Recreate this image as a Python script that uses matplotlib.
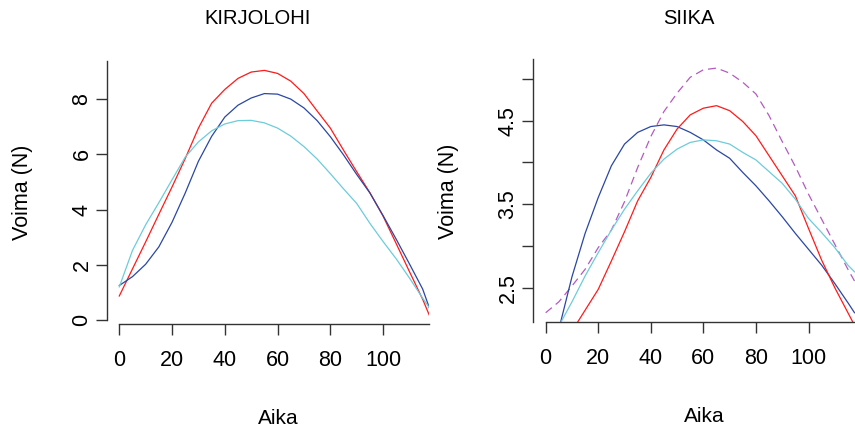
import matplotlib
matplotlib.use("Agg")
import matplotlib.pyplot as plt

plt.rcParams['font.family'] = ['Liberation Sans', 'DejaVu Sans']

# KIRJOLOHI (left panel)
x_kirjo = [0, 5, 10, 15, 20, 25, 30, 35, 40, 45, 50, 55, 60, 65, 70, 75, 80, 85, 90, 95, 100, 105, 110, 115, 117.5]
kirjo_red = [0.87, 1.85, 2.83, 3.83, 4.82, 5.85, 6.95, 7.85, 8.35, 8.75, 8.98, 9.04, 8.93, 8.65, 8.2, 7.57, 6.95,
             6.15, 5.37, 4.61, 3.76, 2.76, 1.75, 0.75, 0.18]
kirjo_blue = [1.25, 1.57, 2.02, 2.65, 3.54, 4.6, 5.75, 6.65, 7.35, 7.78, 8.04, 8.2, 8.18, 8.0, 7.68, 7.22, 6.64,
              5.98, 5.27, 4.6, 3.78, 2.92, 2.03, 1.12, 0.45]
kirjo_cyan = [1.2, 2.52, 3.45, 4.25, 5.08, 5.9, 6.45, 6.85, 7.1, 7.22, 7.23, 7.14, 6.95, 6.66, 6.28, 5.83, 5.3,
              4.75, 4.22, 3.5, 2.84, 2.21, 1.52, 0.79, 0.45]

# SIIKA (right panel)
x_siika = [0, 5, 10, 15, 20, 25, 30, 35, 40, 45, 50, 55, 60, 65, 70, 75, 80, 85, 90, 95, 100, 105, 110, 115, 117.5]
siika_blue = [1.35, 2.0, 2.63, 3.15, 3.58, 3.96, 4.22, 4.36, 4.43, 4.45, 4.43, 4.36, 4.27, 4.15, 4.05, 3.88, 3.72,
              3.54, 3.35, 3.15, 2.96, 2.77, 2.55, 2.32, 2.2]
siika_red = [1.4, 1.65, 1.98, 2.23, 2.48, 2.82, 3.17, 3.54, 3.82, 4.15, 4.4, 4.57, 4.65, 4.68, 4.62, 4.49, 4.32,
             4.08, 3.84, 3.6, 3.21, 2.83, 2.5, 2.2, 2.05]
siika_cyan = [1.75, 2.04, 2.33, 2.64, 2.92, 3.19, 3.44, 3.66, 3.87, 4.04, 4.16, 4.24, 4.27, 4.26, 4.22, 4.12, 4.03,
              3.89, 3.75, 3.56, 3.33, 3.16, 2.98, 2.77, 2.69]
siika_purple = [2.2, 2.33, 2.52, 2.72, 2.98, 3.19, 3.53, 3.94, 4.31, 4.61, 4.83, 5.02, 5.11, 5.13, 5.07, 4.96, 4.82,
                4.56, 4.25, 3.95, 3.62, 3.32, 3.02, 2.72, 2.58]

x_ticks = [0, 20, 40, 60, 80, 100]
kirjo_yticks = [0, 2, 4, 6, 8]
siika_yticks = [2.5, 3.0, 3.5, 4.0, 4.5, 5.0]
siika_ylabels = ["2.5", "", "3.5", "", "4.5", ""]

RED = "#FF1A1A"
BLUE = "#2A47A3"
CYAN = "#6CCCDA"
PURPLE = "#B45AC0"
LW = 0.9

W, H = 855, 430
fig = plt.figure(figsize=(W / 100, H / 100), dpi=100)


def px_axes(left, right, top, bottom):
    return fig.add_axes([left / W, 1 - bottom / H, (right - left) / W, (bottom - top) / H])


def style(ax, xlim, ylim, yticks, ylabels, ybound):
    ax.set_xlim(*xlim)
    ax.set_ylim(*ylim)
    for s in ["top", "right"]:
        ax.spines[s].set_visible(False)
    ax.spines["bottom"].set_bounds(0, xlim[1])
    ax.spines["left"].set_bounds(*ybound)
    for s in ["bottom", "left"]:
        ax.spines[s].set_linewidth(1.0)
        ax.spines[s].set_color("#333333")
    ax.set_xticks(x_ticks)
    ax.set_xticklabels([str(t) for t in x_ticks], fontsize=15.5)
    ax.set_yticks(yticks)
    ax.set_yticklabels(ylabels, fontsize=15.5, rotation=90, va="center")
    ax.tick_params(axis="both", direction="out", length=8, width=1.0, color="#333333")
    ax.tick_params(axis="x", pad=10.5)
    ax.tick_params(axis="y", pad=2.5)


ax1 = px_axes(107, 429, 61, 324)
ax1.plot(x_kirjo, kirjo_red, color=RED, lw=LW)
ax1.plot(x_kirjo, kirjo_blue, color=BLUE, lw=LW)
ax1.plot(x_kirjo, kirjo_cyan, color=CYAN, lw=LW)
style(ax1, (-4.66, 117.4), (-0.145, 9.38), kirjo_yticks, [str(t) for t in kirjo_yticks], (0, 9.38))

ax2 = px_axes(533, 854.5, 59, 322)
ax2.plot(x_siika, siika_purple, color=PURPLE, lw=LW, linestyle=(0, (6.4, 4)))
ax2.plot(x_siika, siika_blue, color=BLUE, lw=LW)
ax2.plot(x_siika, siika_red, color=RED, lw=LW)
ax2.plot(x_siika, siika_cyan, color=CYAN, lw=LW)
style(ax2, (-4.82, 117.5), (2.089, 5.239), siika_yticks, siika_ylabels, (2.089, 5.239))

# titles and axis labels placed in figure pixels
def ftext(x, y, s, size, rot=0):
    fig.text(x / W, 1 - y / H, s, fontsize=size, ha="center", va="center", rotation=rot)

ftext(258, 19, "KIRJOLOHI", 14.5)
ftext(688.5, 19, "SIIKA", 14.5)
ftext(278, 418, "Aika", 15)
ftext(704, 416, "Aika", 15)
ftext(22.5, 192.5, "Voima (N)", 15.5, rot=90)
ftext(448, 191, "Voima (N)", 15.5, rot=90)

fig.savefig("out.png", dpi=100)
